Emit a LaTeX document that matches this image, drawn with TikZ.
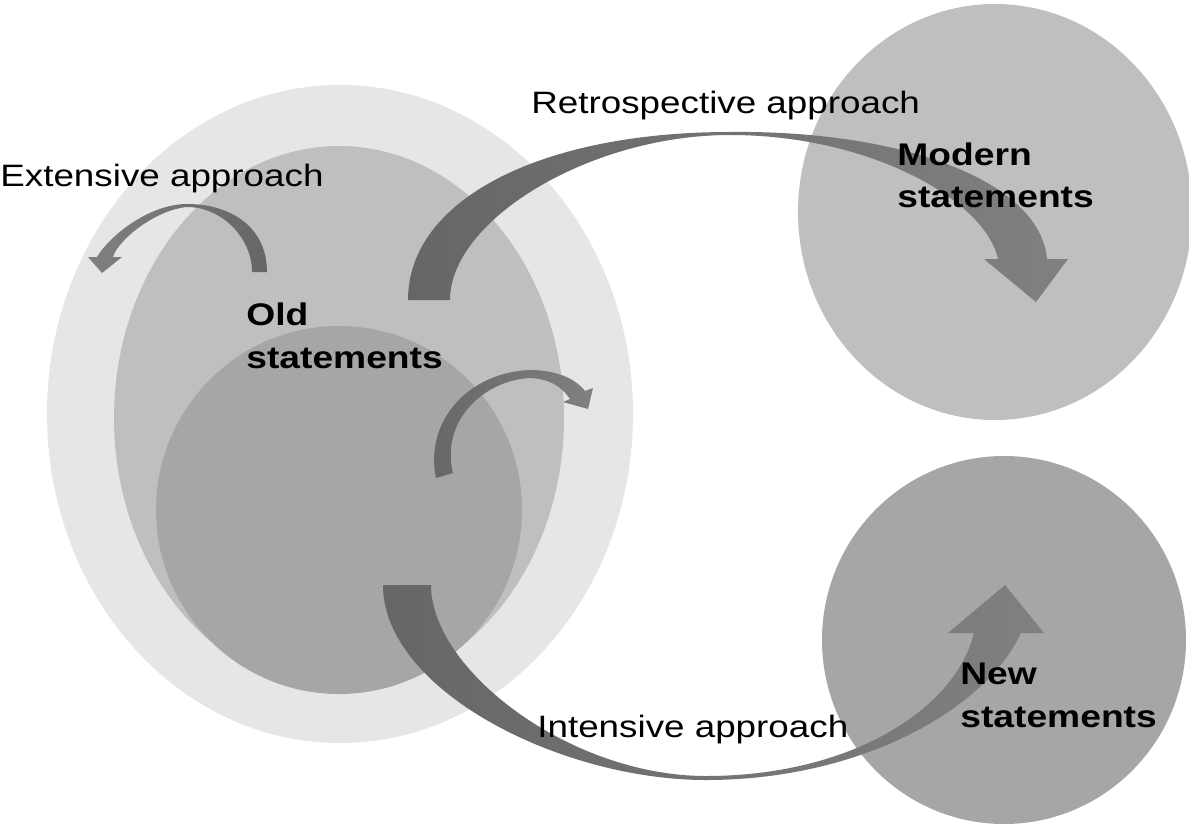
\documentclass[tikz,border=0pt]{standalone}
\usepackage{fontspec}
\usepackage{tikz}
\newfontfamily\lblfont{Liberation Sans}[FakeStretch=1.19]
\definecolor{outerfill}{HTML}{E6E6E6}
\definecolor{midfill}{HTML}{BFBFBF}
\definecolor{corefill}{HTML}{A6A6A6}
\definecolor{arrdark}{HTML}{666666}
\definecolor{arrlight}{HTML}{808080}
\tikzset{
  lbl/.style={anchor=base west, inner sep=0pt, font=\lblfont\fontsize{17.6}{24.4}\selectfont},
  setlbl/.style={lbl, align=left, font=\lblfont\fontsize{17.8}{24.4}\selectfont\bfseries},
}

\begin{document}
\begin{tikzpicture}[x=0.02cm, y=-0.02cm]
  \fill[white] (0,0) rectangle (1189,824);
  \useasboundingbox (0,0) rectangle (1189,824);
  % sets
  \fill[outerfill] (340,414) ellipse [x radius=293, y radius=329];
  \fill[midfill] (339,418) ellipse [x radius=225, y radius=272];
  \fill[corefill] (339,510) ellipse [x radius=183, y radius=184];
  \fill[midfill] (995,212) ellipse [x radius=197, y radius=208];
  \fill[corefill] (1004,640) ellipse [x radius=182, y radius=184];
  % arrows
  \shade[left color=arrlight, right color=arrdark]
    (267,272) .. controls (267,228) and (232,204) .. (187,204)
    .. controls (150,204) and (110,235) .. (97,257)
    -- (88,257) -- (102,273) -- (122,257) -- (113,257)
    .. controls (118,240) and (155,210) .. (187,207)
    .. controls (222,207) and (252,238) .. (252,272) -- cycle;
  \shade[left color=arrdark, right color=arrlight]
    (408,300) .. controls (408,200) and (540,132) .. (730,132)
    .. controls (900,130) and (1040,180) .. (1047,259)
    -- (1068,259) -- (1036,302) -- (984,259) -- (998,259)
    .. controls (985,200) and (870,135) .. (730,135)
    .. controls (590,135) and (450,220) .. (450,300) -- cycle;
  \shade[left color=arrdark, right color=arrlight]
    (436,478) .. controls (424,420) and (470,372) .. (530,370)
    .. controls (555,370) and (575,378) .. (585,391)
    -- (593,388) -- (588,409) -- (563,402) -- (570,399)
    .. controls (562,387) and (550,379) .. (530,378)
    .. controls (485,380) and (440,420) .. (453,473) -- cycle;
  \shade[left color=arrdark, right color=arrlight]
    (383,585) .. controls (383,690) and (560,780) .. (706,780)
    .. controls (860,780) and (985,710) .. (1021,633)
    -- (1044,633) -- (1005,585) -- (948,633) -- (974,633)
    .. controls (955,710) and (850,776) .. (706,776)
    .. controls (570,776) and (431,670) .. (431,585) -- cycle;
  % labels
  \node[lbl] (extensive) at (0,187) {Extensive approach};
  \node[lbl] (retro) at (531,114) {Retrospective approach};
  \node[lbl] (intensive) at (537,737) {Intensive approach};
  \node[setlbl] (old) at (246,368) {Old\\statements};
  \node[setlbl] (modern) at (897,208) {Modern\\statements};
  \node[setlbl] (new) at (960,727) {New\\statements};
\end{tikzpicture}
\end{document}
